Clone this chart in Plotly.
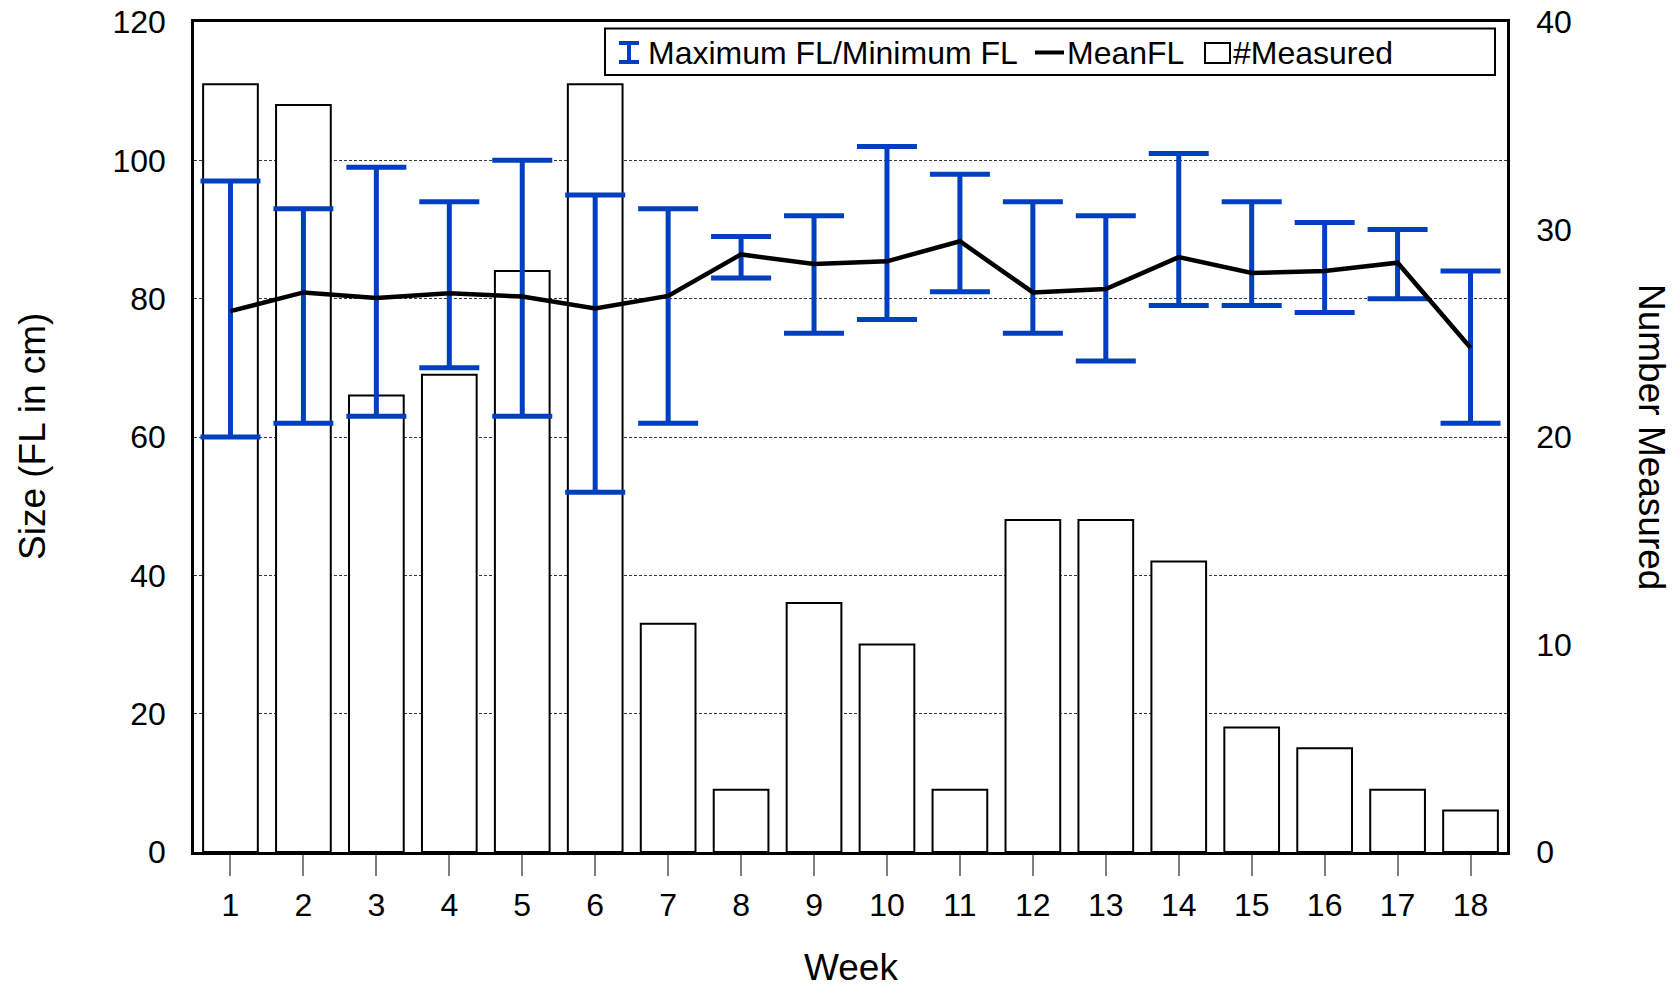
import plotly.graph_objects as go

# Weekly fork-length summary
weeks = list(range(1, 19))
week_labels = [str(w) for w in weeks]
mean_fl = [78.2, 80.9, 80.1, 80.8, 80.3, 78.6, 80.4, 86.4, 85.0, 85.4, 88.3, 80.9, 81.4, 86.0, 83.7, 84.0, 85.2, 72.9]
max_fl = [97, 93, 99, 94, 100, 95, 93, 89, 92, 102, 98, 94, 92, 101, 94, 91, 90, 84]
min_fl = [60, 62, 63, 70, 63, 52, 62, 83, 75, 77, 81, 75, 71, 79, 79, 78, 80, 62]
n_measured = [37, 36, 22, 23, 28, 37, 11, 3, 12, 10, 3, 16, 16, 14, 6, 5, 3, 2]

size_ticks = [0, 20, 40, 60, 80, 100, 120]
count_ticks = [0, 10, 20, 30, 40]

BLUE = "#0040C0"
FONT = "Liberation Sans, Arial, sans-serif"

# figure / plot-area geometry in pixels
FIG_W, FIG_H = 1677, 991
L, R, T, B = 194, 170, 22, 139
PW, PH = FIG_W - L - R, FIG_H - T - B


def px_x(x):
    return (x - L) / PW


def px_y(y):
    return (FIG_H - B - y) / PH


err_plus = [mx - m for mx, m in zip(max_fl, mean_fl)]
err_minus = [m - mn for m, mn in zip(mean_fl, min_fl)]

fig = go.Figure()

fig.add_trace(go.Bar(
    x=weeks, y=n_measured, yaxis="y", width=0.75,
    marker=dict(color="white", line=dict(color="black", width=2)),
    name="#Measured", showlegend=False,
))

fig.add_trace(go.Scatter(
    x=weeks, y=mean_fl, yaxis="y2", mode="markers",
    marker=dict(size=1, color="rgba(0,0,0,0)"),
    error_y=dict(type="data", symmetric=False, array=err_plus, arrayminus=err_minus,
                 color=BLUE, thickness=5, width=30),
    name="Maximum FL/Minimum FL", showlegend=False, hoverinfo="skip",
))

fig.add_trace(go.Scatter(
    x=weeks, y=mean_fl, yaxis="y2", mode="lines",
    line=dict(color="black", width=4.5),
    name="MeanFL", showlegend=False,
))

# hand-built legend box
shapes = [
    dict(type="rect", xref="paper", yref="paper",
         x0=px_x(605), x1=px_x(1495), y0=px_y(75), y1=px_y(28.5),
         line=dict(color="black", width=2), fillcolor="white"),
    # error-bar glyph
    dict(type="line", xref="paper", yref="paper", x0=px_x(629), x1=px_x(629),
         y0=px_y(43), y1=px_y(62), line=dict(color=BLUE, width=4)),
    dict(type="line", xref="paper", yref="paper", x0=px_x(619), x1=px_x(639),
         y0=px_y(43), y1=px_y(43), line=dict(color=BLUE, width=4)),
    dict(type="line", xref="paper", yref="paper", x0=px_x(619), x1=px_x(639),
         y0=px_y(62), y1=px_y(62), line=dict(color=BLUE, width=4)),
    # mean line glyph
    dict(type="line", xref="paper", yref="paper", x0=px_x(1035), x1=px_x(1064),
         y0=px_y(52.5), y1=px_y(52.5), line=dict(color="black", width=4)),
    # bar glyph
    dict(type="rect", xref="paper", yref="paper", x0=px_x(1205), x1=px_x(1230),
         y0=px_y(63), y1=px_y(43), line=dict(color="black", width=2), fillcolor="white"),
]

legend_font = dict(family=FONT, size=32, color="black")
title_font = dict(family=FONT, size=37, color="black")
annotations = [
    dict(text="Maximum FL/Minimum FL", x=px_x(646), y=px_y(53), xref="paper", yref="paper",
         xanchor="left", yanchor="middle", showarrow=False, font=legend_font),
    dict(text="MeanFL", x=px_x(1065), y=px_y(53), xref="paper", yref="paper",
         xanchor="left", yanchor="middle", showarrow=False, font=legend_font),
    dict(text="#Measured", x=px_x(1231), y=px_y(53), xref="paper", yref="paper",
         xanchor="left", yanchor="middle", showarrow=False, font=legend_font),
    # axis titles
    dict(text="Size (FL in cm)", x=px_x(32), y=0.5, xref="paper", yref="paper",
         xanchor="center", yanchor="middle", textangle=-90, showarrow=False,
         font=title_font),
    dict(text="Number Measured", x=px_x(1652), y=0.5, xref="paper", yref="paper",
         xanchor="center", yanchor="middle", textangle=90, showarrow=False,
         font=title_font),
    dict(text="Week", x=0.5, y=px_y(967), xref="paper", yref="paper",
         xanchor="center", yanchor="middle", showarrow=False,
         font=title_font),
]

tick_font = dict(family=FONT, size=32, color="black")

fig.update_layout(
    width=FIG_W, height=FIG_H,
    margin=dict(l=L, r=R, t=T, b=B, pad=0, autoexpand=False),
    paper_bgcolor="white", plot_bgcolor="white",
    font=dict(family=FONT, size=32, color="black"),
    showlegend=False,
    shapes=shapes, annotations=annotations,
    xaxis=dict(
        range=[0.5, 18.5], tickvals=weeks, ticktext=week_labels,
        ticks="outside", ticklen=21, tickwidth=1.5, tickcolor="#7f7f7f",
        ticklabelstandoff=2, automargin=False,
        showline=True, linecolor="black", linewidth=2.5, mirror=True,
        showgrid=False, zeroline=False,
        tickfont=tick_font,
    ),
    yaxis=dict(
        side="right", range=[0, 40], tickvals=count_ticks,
        ticks="", ticklabelstandoff=20, automargin=False,
        showline=True, linecolor="black", linewidth=2.5,
        showgrid=False, zeroline=False,
        tickfont=tick_font,
    ),
    yaxis2=dict(
        overlaying="y", side="left", range=[0, 120], tickvals=size_ticks,
        ticks="", ticklabelstandoff=19, automargin=False,
        showline=True, linecolor="black", linewidth=2.5,
        showgrid=True, gridcolor="#3a3a3a", gridwidth=1, griddash="3px,2px",
        zeroline=False,
        tickfont=tick_font,
    ),
)

fig.write_html("out.html")
